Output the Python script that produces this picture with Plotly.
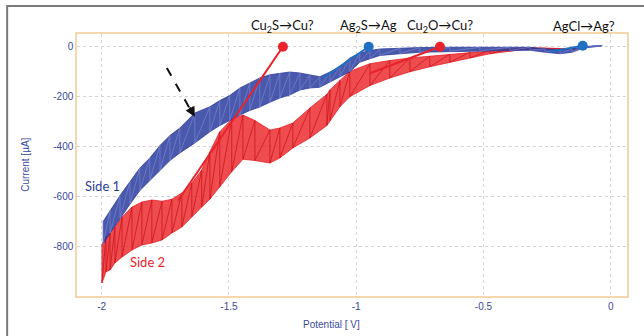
import plotly.graph_objects as go

# ---------------- data ----------------
potential_side1 = [-1.995, -1.967, -1.928, -1.889, -1.850, -1.811, -1.771, -1.732, -1.693,
                   -1.634, -1.575, -1.536, -1.497, -1.457, -1.418, -1.379, -1.339, -1.300,
                   -1.261, -1.221, -1.182, -1.143, -1.103, -1.064, -1.025, -0.986, -0.946,
                   -0.907, -0.828, -0.750, -0.632, -0.514, -0.396, -0.317, -0.258, -0.199,
                   -0.152, -0.109, -0.062, -0.034]
upper_side1 = [-700, -655, -595, -540, -485, -445, -395, -355, -325,
               -265, -240, -215, -195, -165, -145, -125, -112, -105,
               -101, -105, -113, -120, -101, -80, -45, -25, -15,
               -9, -6, -3, -2, -2, -1, -2, -8, -13,
               -8, 0, 4, 5]
lower_side1 = [-790, -745, -685, -630, -575, -535, -495, -455, -425,
               -385, -340, -315, -295, -273, -255, -241, -222, -205,
               -193, -173, -165, -162, -141, -120, -100, -62, -48,
               -35, -28, -22, -18, -18, -15, -14, -22, -28,
               -22, -6, 0, 3]

potential_side2 = [-1.999, -1.983, -1.967, -1.948, -1.920, -1.881, -1.842, -1.803, -1.763,
                   -1.724, -1.685, -1.646, -1.607, -1.575, -1.536, -1.489, -1.445, -1.398,
                   -1.339, -1.300, -1.249, -1.182, -1.115, -1.103, -1.064, -1.025, -0.946,
                   -0.868, -0.789, -0.711, -0.632, -0.553, -0.475, -0.396, -0.337, -0.258,
                   -0.199, -0.140]
upper_side2 = [-790, -760, -745, -721, -681, -641, -621, -613, -618,
               -610, -585, -545, -493, -420, -340, -290, -273, -295,
               -333, -325, -305, -245, -190, -172, -135, -98, -68,
               -55, -45, -38, -30, -22, -14, -8, -4, -5,
               -7, -6]
lower_side2 = [-945, -900, -893, -865, -841, -813, -793, -785, -773,
               -745, -721, -681, -641, -610, -560, -500, -450, -455,
               -465, -445, -405, -365, -315, -295, -240, -200, -155,
               -125, -100, -80, -62, -45, -28, -18, -10, -9,
               -10, -9]

# reduction markers and their tangent lines
marker_labels = ["Cu<sub>2</sub>S→Cu?", "Ag<sub>2</sub>S→Ag", "Cu<sub>2</sub>O→Cu?", "AgCl→Ag?"]
marker_potential = [-1.288, -0.951, -0.671, -0.110]
marker_current = [0, 0, 0, 4]
tangent_start_potential = [-1.700, -1.131, -0.946, -0.240]
tangent_start_current = [-615, -125, -106, -20]
marker_colors = ["#e8232b", "#1f6fc2", "#e8232b", "#1f6fc2"]
label_x = [-1.288, -0.951, -0.671, -0.104]

x_ticks = [-2, -1.5, -1, -0.5, 0]
x_ticklabels = ["-2", "-1.5", "-1", "-0.5", "0"]
y_ticks = [0, -200, -400, -600, -800]
y_ticklabels = ["0", "-200", "-400", "-600", "-800"]

# ---------------- figure ----------------
fig = go.Figure()


def band(pot, up, lo, fillcol, linecol, zigcol):
    fig.add_trace(go.Scatter(
        x=pot + pot[::-1], y=up + lo[::-1], mode="lines", fill="toself",
        fillcolor=fillcol, line=dict(color=linecol, width=0.8),
        hoverinfo="skip", showlegend=False))
    zx, zy = [], []
    for p, u, l in zip(pot, up, lo):
        zx += [p, p]
        zy += [u, l]
    fig.add_trace(go.Scatter(
        x=zx, y=zy, mode="lines", line=dict(color=zigcol, width=0.8),
        hoverinfo="skip", showlegend=False))


band(potential_side2, upper_side2, lower_side2,
     "rgba(236,36,42,0.82)", "rgba(228,28,34,0.95)", "rgba(200,16,22,0.9)")
band(potential_side1, upper_side1, lower_side1,
     "rgba(44,60,158,0.85)", "rgba(40,56,150,0.95)", "rgba(120,134,210,0.85)")

for i in range(len(marker_labels)):
    fig.add_trace(go.Scatter(
        x=[tangent_start_potential[i], marker_potential[i]],
        y=[tangent_start_current[i], marker_current[i]],
        mode="lines", line=dict(color=marker_colors[i], width=2),
        hoverinfo="skip", showlegend=False))
    fig.add_trace(go.Scatter(
        x=[marker_potential[i]], y=[marker_current[i]], mode="markers",
        marker=dict(color=marker_colors[i], size=10),
        hoverinfo="skip", showlegend=False))
    fig.add_annotation(x=label_x[i], xref="x", y=1.03, yref="paper",
                       text=marker_labels[i], showarrow=False,
                       font=dict(family="Lato, Open Sans, sans-serif", size=13, color="#111111"),
                       xanchor="center", yanchor="middle")

# side labels
fig.add_annotation(x=-1.995, y=-555, text="Side 1", showarrow=False,
                   font=dict(family="Lato, Open Sans, sans-serif", size=13, color="#2d3f99"))
fig.add_annotation(x=-1.82, y=-862, text="Side 2", showarrow=False,
                   font=dict(family="Lato, Open Sans, sans-serif", size=13, color="#e8232b"))

# dashed arrow
fig.add_shape(type="line", x0=-1.744, y0=-85, x1=-1.655, y1=-245,
              line=dict(color="#111111", width=2, dash="dash"))
fig.add_annotation(x=-1.634, y=-281, ax=-6, ay=-11, text="", showarrow=True,
                   arrowhead=2, arrowsize=1, arrowwidth=2, arrowcolor="#111111")

# outer gray frame
fig.add_shape(type="rect", xref="paper", yref="paper",
              x0=-0.127, y0=-0.2, x1=1.05, y1=1.107,
              line=dict(color="#7a7a7a", width=2), layer="below")

# axis titles as annotations
fig.add_annotation(x=0.462, xref="paper", y=-0.107, yref="paper",
                   text="Potential [ V]", showarrow=False, xanchor="center", yanchor="middle",
                   font=dict(family="Liberation Sans, Arial, sans-serif", size=10, color="#3a4a9e"))
fig.add_annotation(x=-0.095, xref="paper", y=0.5, yref="paper",
                   text="Current [µA]", textangle=-90, showarrow=False,
                   xanchor="center", yanchor="middle",
                   font=dict(family="Liberation Sans, Arial, sans-serif", size=10, color="#3a4a9e"))

fig.update_xaxes(range=[-2.097, 0.064], tickvals=x_ticks, ticktext=x_ticklabels,
                 showgrid=True, gridcolor="#d4d4d4", griddash="dot", gridwidth=1,
                 zeroline=False, showline=True, linecolor="#f5d7ad", linewidth=1.5,
                 mirror=True, ticks="", ticklen=0,
                 tickfont=dict(family="Liberation Sans, Arial, sans-serif", size=10, color="#3a4a9e"))
fig.update_yaxes(range=[-997, 51], tickvals=y_ticks, ticktext=y_ticklabels,
                 showgrid=True, gridcolor="#d4d4d4", griddash="dot", gridwidth=1,
                 zeroline=False, showline=True, linecolor="#f5d7ad", linewidth=1.5,
                 mirror=True, ticks="",
                 tickfont=dict(family="Liberation Sans, Arial, sans-serif", size=10, color="#3a4a9e"))

fig.update_layout(width=644, height=336,
                  margin=dict(l=77, r=17, t=34, b=40),
                  paper_bgcolor="white", plot_bgcolor="white",
                  showlegend=False)

fig.write_html("out.html", config={"displayModeBar": False},
               post_script="document.body.style.margin='0';document.body.style.overflow='hidden';")
